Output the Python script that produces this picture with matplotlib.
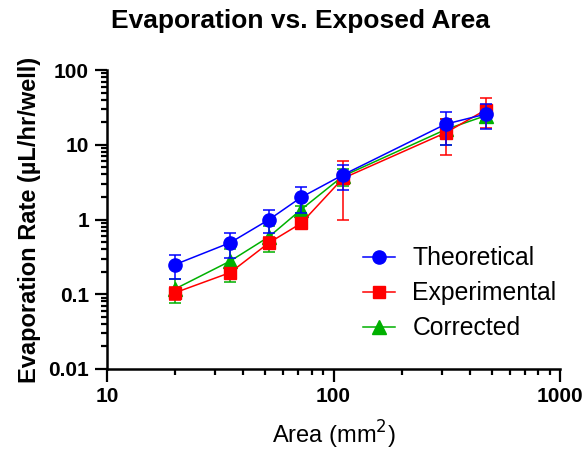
"""
Evaporation rate against exposed well area, log-log with error bars
"""

import matplotlib
matplotlib.use("Agg")
import matplotlib.pyplot as plt
from matplotlib.lines import Line2D
from matplotlib.ticker import FixedLocator, FixedFormatter, LogLocator, NullFormatter

plt.rcParams['font.family'] = ['Liberation Sans', 'DejaVu Sans']

# Exposed area per well (mm^2)
area = [20, 35, 52, 72, 110, 313, 470]

# Evaporation rate (uL/hr/well) and error
theoretical = [0.25, 0.49, 1.0, 1.98, 3.95, 18.9, 25.7]
theoretical_err = [0.088, 0.18, 0.34, 0.75, 1.45, 8.9, 9.4]

experimental = [0.105, 0.195, 0.49, 0.89, 3.55, 14.5, 29.3]
experimental_err = [0.02, 0.03, 0.09, 0.10, 2.57, 7.3, 12.6]

corrected = [0.118, 0.278, 0.59, 1.36, 3.8, 16.0, 24.5]
corrected_err = [0.042, 0.13, 0.22, 0.14, 1.0, 6.0, 3.5]

x_ticks = [10, 100, 1000]
x_tick_labels = ['10', '100', '1000']
y_ticks = [0.01, 0.1, 1, 10, 100]
y_tick_labels = ['0.01', '0.1', '1', '10', '100']

fig = plt.figure(figsize=(5.86, 4.57), dpi=100)
ax = fig.add_axes([107 / 586, 88 / 457, 453 / 586, 299 / 457])

series = [
    ('Corrected', corrected, corrected_err, '#00B000', '^', 9.5),
    ('Experimental', experimental, experimental_err, '#FF0000', 's', 9),
    ('Theoretical', theoretical, theoretical_err, '#0000FF', 'o', 9.5),
]
handles = {}
for z, (name, vals, err, color, marker, ms) in enumerate(series):
    ax.errorbar(area, vals, yerr=err, color=color, marker=marker,
                markersize=ms, linewidth=1.1, elinewidth=1.1,
                capsize=4.3, capthick=1.1, zorder=3 + z, clip_on=False)
    # legend shows line + marker only
    handles[name] = Line2D([], [], color=color, marker=marker,
                           markersize=ms, linewidth=1.1)

ax.set_xscale('log')
ax.set_yscale('log')
ax.set_xlim(10, 1000)
ax.set_ylim(0.01, 100)

ax.xaxis.set_major_locator(FixedLocator(x_ticks))
ax.xaxis.set_major_formatter(FixedFormatter(x_tick_labels))
ax.yaxis.set_major_locator(FixedLocator(y_ticks))
ax.yaxis.set_major_formatter(FixedFormatter(y_tick_labels))
ax.xaxis.set_minor_locator(LogLocator(base=10, subs=range(2, 10)))
ax.yaxis.set_minor_locator(LogLocator(base=10, subs=range(2, 10)))
ax.xaxis.set_minor_formatter(NullFormatter())
ax.yaxis.set_minor_formatter(NullFormatter())

for side in ['top', 'right']:
    ax.spines[side].set_visible(False)
for side in ['left', 'bottom']:
    ax.spines[side].set_linewidth(1.8)

ax.tick_params(which='major', direction='out', length=9, width=1.6,
               labelsize=15, pad=4)
ax.tick_params(which='minor', direction='out', length=4.5, width=1.6)
for lbl in ax.get_xticklabels() + ax.get_yticklabels():
    lbl.set_fontweight('bold')

fig.text(300 / 586, 1 - 21 / 457, 'Evaporation vs. Exposed Area',
         fontsize=19, fontweight='bold', ha='center', va='center')
ax.set_ylabel('Evaporation Rate (µL/hr/well)', fontsize=17, fontweight='bold', labelpad=5)
ax.set_xlabel('Area (mm$^2$)', fontsize=17, labelpad=9)

order = ['Theoretical', 'Experimental', 'Corrected']
ax.legend([handles[n] for n in order], order, loc='center left',
          bbox_to_anchor=(0.565, 0.253), frameon=False, fontsize=17.8,
          handlelength=1.3, handletextpad=0.7, labelspacing=0.45,
          borderpad=0, borderaxespad=0)

fig.savefig('out.png', dpi=100)
